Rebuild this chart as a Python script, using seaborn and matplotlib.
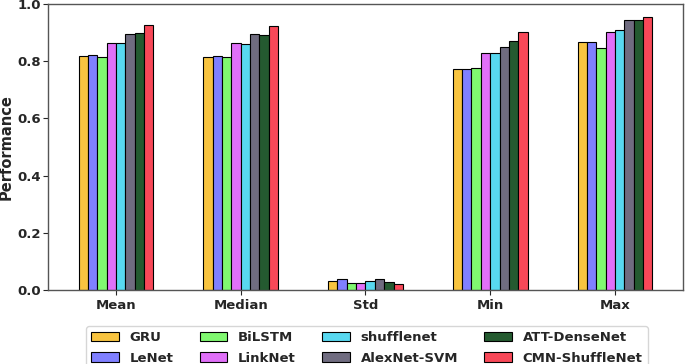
import matplotlib
matplotlib.use("Agg")
import matplotlib.pyplot as plt
import seaborn as sns
import pandas as pd

metrics = ["Mean", "Median", "Std", "Min", "Max"]
models = ["GRU", "LeNet", "BiLSTM", "LinkNet", "shufflenet", "AlexNet-SVM", "ATT-DenseNet", "CMN-ShuffleNet"]

gru        = [0.818, 0.816, 0.030, 0.772, 0.868]
lenet      = [0.821, 0.819, 0.038, 0.772, 0.868]
bilstm     = [0.814, 0.814, 0.024, 0.777, 0.847]
linknet    = [0.865, 0.865, 0.024, 0.828, 0.901]
shufflenet = [0.864, 0.860, 0.031, 0.830, 0.910]
alexnet    = [0.896, 0.894, 0.039, 0.850, 0.945]
attdense   = [0.899, 0.892, 0.027, 0.870, 0.942]
cmn        = [0.927, 0.924, 0.022, 0.901, 0.955]

colors = ["#F8C440", "#8080FF", "#80F870", "#E070F8", "#58D8F0", "#706C80", "#245A30", "#F84858"]

series = [gru, lenet, bilstm, linknet, shufflenet, alexnet, attdense, cmn]
rows = []
for m, vals in zip(models, series):
    for met, v in zip(metrics, vals):
        rows.append({"Metric": met, "Model": m, "Performance": v})
df = pd.DataFrame(rows)

sns.set_style("white")
plt.rcParams["font.family"] = ["DejaVu Sans"]
plt.rcParams["font.weight"] = "bold"

fig = plt.figure(figsize=(6.85, 3.64), dpi=100)
ax = fig.add_axes([0.070, 0.2033, 0.927, 0.786])

sns.barplot(data=df, x="Metric", y="Performance", hue="Model", order=metrics,
            hue_order=models, palette=colors, width=0.6, edgecolor="black",
            linewidth=0.8, saturation=1, ax=ax, legend=True)

FS = 9.5
ax.set_ylim(0, 1.0)
ax.set_xlim(-0.545, 4.545)
ax.set_xlabel("")
ax.set_ylabel("Performance", fontsize=10.5, fontweight="bold")
ax.yaxis.set_label_coords(-0.0535, 0.5)
ax.tick_params(axis="both", labelsize=FS, length=3.5, width=0.8, direction="out",
               bottom=True, left=True)
ax.tick_params(axis="y", pad=1.5)
ax.tick_params(axis="x", pad=3)
for lab in ax.get_xticklabels() + ax.get_yticklabels():
    lab.set_fontweight("bold")
ax.set_yticks([0.0, 0.2, 0.4, 0.6, 0.8, 1.0])
for s in ax.spines.values():
    s.set_color("#555555")
    s.set_linewidth(1.0)

handles, labels = ax.get_legend_handles_labels()
ax.legend_.remove()
leg = fig.legend(handles, labels, loc="upper left", bbox_to_anchor=(0.1255, 0.1044),
                 ncol=4, frameon=True, handlelength=2.1, handletextpad=0.8,
                 columnspacing=2.0, borderaxespad=0, borderpad=0.4, labelspacing=0.55,
                 prop={"weight": "bold", "size": FS})
leg.get_frame().set_edgecolor("#cccccc")

fig.savefig("out.png", dpi=100)
